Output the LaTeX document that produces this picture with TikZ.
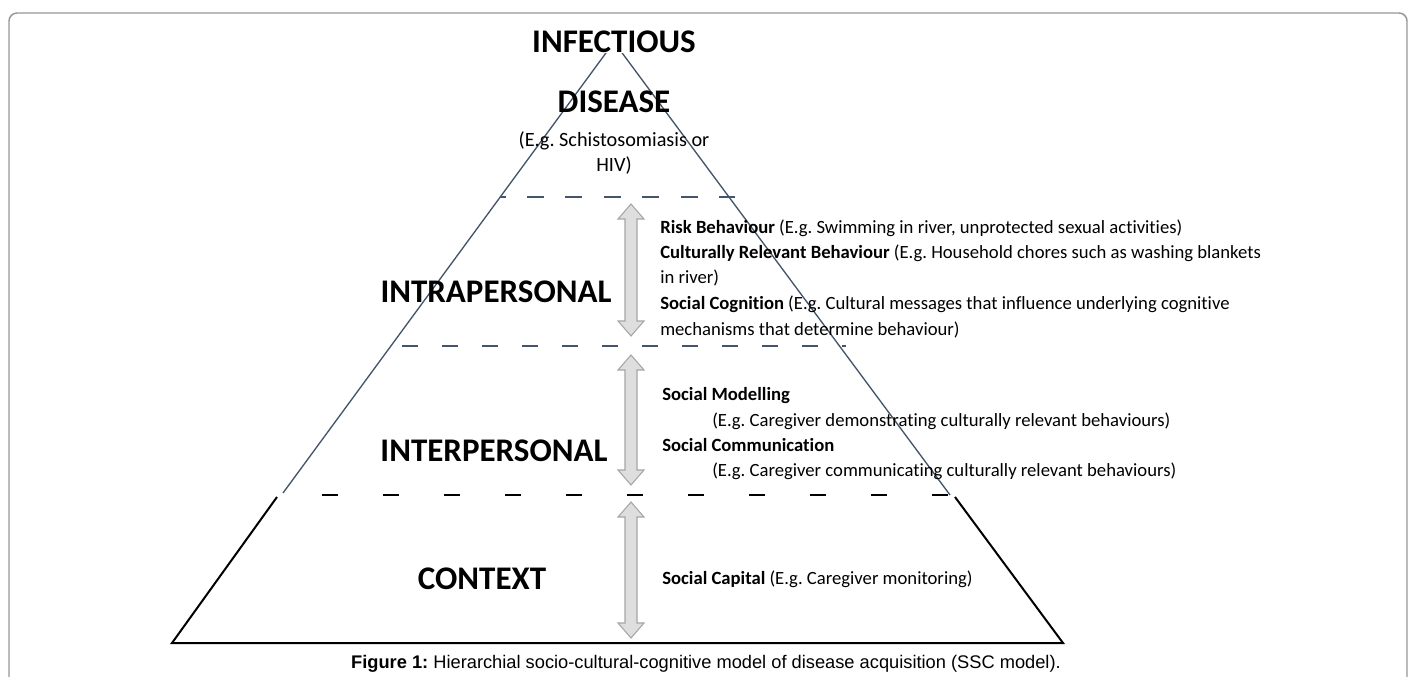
\documentclass[tikz,border=0pt]{standalone}
\usepackage{fontspec}
\setmainfont{Carlito}[Ligatures=NoCommon]
\newfontfamily\captionfont{Liberation Sans}
\usepackage{xcolor}
\usepackage{tikz}

\definecolor{slate}{RGB}{68,84,106}
\definecolor{arrowfill}{RGB}{222,222,222}
\definecolor{arrowline}{RGB}{166,166,166}
\definecolor{framegray}{RGB}{150,150,150}

\begin{document}
\frenchspacing
\begin{tikzpicture}[x=0.75pt,y=0.75pt,yscale=-1,xscale=1,
  layername/.style={font=\fontsize{24.75pt}{29pt}\selectfont\bfseries, inner sep=0pt, anchor=base},
  note/.style={font=\fontsize{14pt}{17pt}\selectfont, inner sep=0pt, anchor=base west},
  updown/.style={draw=arrowline, fill=arrowfill, line width=0.8pt}]

\useasboundingbox (0,0) rectangle (1414,677);
\clip (0,0) rectangle (1414,677);

%frame
\draw [framegray, line width=1.1pt, rounded corners=6pt] (9,13) rectangle (1407,720);

%pyramid
\draw [slate, line width=1pt] (283,493) -- (614,42) -- (950,495) ;

\draw [line width=1.5pt] (277,497) -- (172,643) -- (1063,643) -- (955,497) ;

%level borders
\draw [slate, line width=1.5pt, dash pattern=on 12.75pt off 16.1pt, dash phase=8.6pt] (500,197) -- (735,197) ;

\draw [slate, line width=1.5pt, dash pattern=on 12pt off 18pt, dash phase=21.75pt] (391,346) -- (846,346) ;

\draw [line width=1.5pt, dash pattern=on 12pt off 33.75pt] (322,495) -- (950,495) ;

%arrows
\draw [updown] (631,204) -- (644,219) -- (637,219) -- (637,321) -- (644,321) -- (631,336) -- (618,321) -- (625,321) -- (625,219) -- (618,219) -- cycle ;

\draw [updown] (631,355) -- (644,370) -- (637,370) -- (637,470) -- (644,470) -- (631,485) -- (618,470) -- (625,470) -- (625,370) -- (618,370) -- cycle ;

\draw [updown] (631,502) -- (644,517) -- (637,517) -- (637,623) -- (644,623) -- (631,638) -- (618,623) -- (625,623) -- (625,517) -- (618,517) -- cycle ;

%top
\draw (614,53) node [layername, fill=white] (infectious) {INFECTIOUS};

\draw (614,113) node [layername] (disease) {DISEASE};

\draw (614,147) node [anchor=base][inner sep=0pt][font=\fontsize{15.2pt}{18pt}\selectfont] (example) {(E.g. Schistosomiasis or};

\draw (614,172) node [anchor=base][inner sep=0pt][font=\fontsize{15.2pt}{18pt}\selectfont] (hiv) {HIV)};

%levels
\draw (496,303) node [layername] (intra) {INTRAPERSONAL};

\draw (494,461) node [layername] (inter) {INTERPERSONAL};

\draw (482,589) node [layername] (context) {CONTEXT};

%intrapersonal notes
\draw (660,234) node [note] (risk) {\textbf{Risk Behaviour} (E.g. Swimming in river, unprotected sexual activities)};

\draw (660,259) node [note] (cultural) {\textbf{Culturally Relevant Behaviour} (E.g. Household chores such as washing blankets};

\draw (660,284) node [note] (river) {in river)};

\draw (660,310) node [note] (cognition) {\textbf{Social Cognition} (E.g. Cultural messages that influence underlying cognitive};

\draw (660,335) node [note] (mechanisms) {mechanisms that determine behaviour)};

%interpersonal notes
\draw (662,400) node [note] (modelling) {\textbf{Social Modelling}};

\draw (712,426) node [note] (demonstrating) {(E.g. Caregiver demonstrating culturally relevant behaviours)};

\draw (662,451) node [note] (communication) {\textbf{Social Communication}};

\draw (712,476) node [note] (communicating) {(E.g. Caregiver communicating culturally relevant behaviours)};

%context notes
\draw (662,584) node [note] (capital) {\textbf{Social Capital} (E.g. Caregiver monitoring)};

%caption
\draw (706,668) node [anchor=base][inner sep=0pt][font=\captionfont\fontsize{13.7pt}{16pt}\selectfont] (caption) {\textbf{Figure 1:} Hierarchial socio-cultural-cognitive model of disease acquisition (SSC model).};

\end{tikzpicture}
\end{document}
